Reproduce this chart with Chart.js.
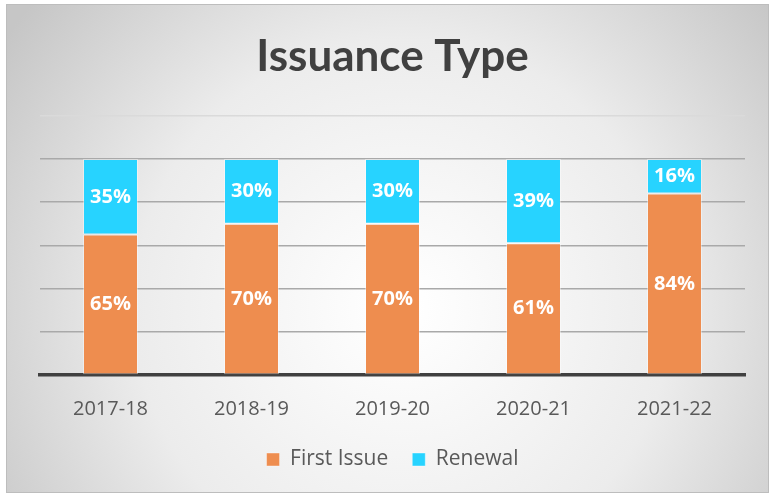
<!DOCTYPE html>
<html>
<head>
<meta charset="utf-8">
<script src="https://cdn.jsdelivr.net/npm/chart.js@4/dist/chart.umd.min.js"></script>
<style>
  html, body { margin: 0; padding: 0; background: #fff; }
  #wrap { position: relative; width: 775px; height: 497px; }
</style>
</head>
<body>
<div id="wrap"><canvas id="chart"></canvas></div>
<script>
// values (percent of issuances)
const years = ['2017-18', '2018-19', '2019-20', '2020-21', '2021-22'];
const firstIssue = [65, 70, 70, 61, 84];
const renewal = [35, 30, 30, 39, 16];

const FONT = "'Open Sans', 'Noto Sans', sans-serif";

// panel background: soft radial grey with a thin frame
const panelBg = {
    id: 'panelBg',
    beforeDraw(chart) {
        const {ctx, width, height} = chart;
        ctx.save();
        const g = ctx.createRadialGradient(width * 0.52, height * 0.62, 10, width * 0.52, height * 0.62, width * 0.62);
        g.addColorStop(0, '#ffffff');
        g.addColorStop(0.55, '#ececec');
        g.addColorStop(1, '#c6c6c6');
        ctx.fillStyle = g;
        ctx.fillRect(6, 4, width - 12, height - 8);
        ctx.strokeStyle = '#bdbdbd';
        ctx.lineWidth = 1;
        ctx.strokeRect(6.5, 4.5, width - 13, height - 9);
        ctx.restore();
    }
};

// percent labels in the middle of every segment
const segLabels = {
    id: 'segLabels',
    afterDatasetsDraw(chart) {
        const {ctx} = chart;
        ctx.save();
        ctx.fillStyle = '#ffffff';
        ctx.font = `bold 20px ${FONT}`;
        ctx.textAlign = 'center';
        ctx.textBaseline = 'middle';
        chart.data.datasets.forEach((ds, i) => {
            chart.getDatasetMeta(i).data.forEach((bar, j) => {
                const p = bar.getCenterPoint();
                ctx.fillText(ds.data[j] + '%', p.x, p.y);
            });
        });
        ctx.restore();
    }
};

new Chart(document.getElementById('chart'), {
    type: 'bar',
    data: {
        labels: years,
        datasets: [
            {
                label: 'First Issue',
                data: firstIssue,
                backgroundColor: '#ee8d4f',
                borderColor: 'rgba(255,255,255,0.4)',
                borderWidth: 1,
                borderSkipped: false,
                barPercentage: 0.39,
                categoryPercentage: 1
            },
            {
                label: 'Renewal',
                data: renewal,
                backgroundColor: '#27d3ff',
                borderColor: 'rgba(255,255,255,0.4)',
                borderWidth: 1,
                borderSkipped: false,
                barPercentage: 0.39,
                categoryPercentage: 1
            }
        ]
    },
    options: {
        responsive: true,
        maintainAspectRatio: false,
        animation: false,
        layout: { padding: { left: 40, right: 30, top: 0, bottom: 17 } },
        plugins: {
            title: {
                display: true,
                text: 'Issuance Type',
                color: '#404040',
                font: { family: "Lato, 'Open Sans', sans-serif", size: 44, weight: 'bold' },
                padding: { top: 30, bottom: 33 }
            },
            legend: {
                position: 'bottom',
                labels: {
                    color: '#595959',
                    font: { family: FONT, size: 21 },
                    boxWidth: 13,
                    boxHeight: 13,
                    padding: 24
                }
            },
            tooltip: { enabled: false }
        },
        scales: {
            x: {
                stacked: true,
                grid: { display: false },
                border: { color: '#404040', width: 3.5 },
                ticks: { color: '#595959', font: { family: FONT, size: 20 }, padding: 14 },
                // pull the legend closer to the year labels
                afterFit(scale) { scale.height -= 10; }
            },
            y: {
                stacked: true,
                min: 0,
                max: 120,
                ticks: { display: false, stepSize: 20 },
                border: { display: false },
                grid: {
                    color: c => c.tick && c.tick.value === 120 ? '#dadada' : '#a9a9a9',
                    lineWidth: 1.5,
                    drawTicks: false
                }
            }
        }
    },
    plugins: [panelBg, segLabels]
});
</script>
</body>
</html>
